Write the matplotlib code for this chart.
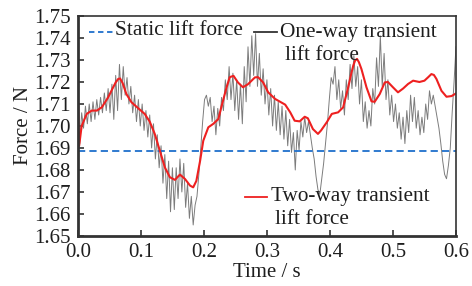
import matplotlib
matplotlib.use("Agg")
import matplotlib.pyplot as plt
import numpy as np
from matplotlib.lines import Line2D

plt.rcParams['font.family'] = ['Liberation Serif', 'DejaVu Serif']

# Static lift force (constant)
static_force = 1.6886

# One-way transient lift force, sampled every 0.003 s from 0 to 0.6 s
t_one = np.linspace(0.0, 0.6, 201)
one_way = [
    1.690, 1.692, 1.706, 1.699, 1.709, 1.701, 1.710, 1.702, 1.711, 1.703,
    1.712, 1.705, 1.713, 1.706, 1.715, 1.707, 1.717, 1.706, 1.719, 1.703,
    1.723, 1.707, 1.728, 1.712, 1.727, 1.714, 1.722, 1.710, 1.718, 1.706,
    1.714, 1.702, 1.712, 1.700, 1.710, 1.698, 1.707, 1.695, 1.705, 1.690,
    1.701, 1.685, 1.696, 1.681, 1.691, 1.674, 1.687, 1.667, 1.684, 1.661,
    1.681, 1.662, 1.681, 1.667, 1.685, 1.670, 1.683, 1.663, 1.674, 1.658,
    1.668, 1.655, 1.664, 1.668, 1.678, 1.690, 1.702, 1.712, 1.714, 1.709,
    1.713, 1.702, 1.709, 1.696, 1.708, 1.700, 1.713, 1.707, 1.721, 1.712,
    1.727, 1.712, 1.724, 1.707, 1.721, 1.703, 1.719, 1.701, 1.727, 1.711,
    1.736, 1.718, 1.741, 1.723, 1.742, 1.718, 1.733, 1.714, 1.726, 1.710,
    1.721, 1.705, 1.717, 1.700, 1.714, 1.698, 1.711, 1.696, 1.709, 1.694,
    1.707, 1.691, 1.703, 1.688, 1.697, 1.680, 1.698, 1.689, 1.702, 1.695,
    1.704, 1.697, 1.702, 1.696, 1.690, 1.685, 1.677, 1.671, 1.669, 1.676,
    1.683, 1.692, 1.701, 1.712, 1.722, 1.719, 1.727, 1.712, 1.721, 1.708,
    1.716, 1.705, 1.721, 1.712, 1.728, 1.717, 1.732, 1.718, 1.727, 1.710,
    1.721, 1.702, 1.711, 1.699, 1.707, 1.700, 1.717, 1.710, 1.731, 1.718,
    1.741, 1.718, 1.733, 1.712, 1.721, 1.705, 1.714, 1.702, 1.710, 1.699,
    1.706, 1.694, 1.704, 1.692, 1.707, 1.697, 1.714, 1.702, 1.713, 1.699,
    1.707, 1.696, 1.704, 1.697, 1.710, 1.703, 1.716, 1.710, 1.714, 1.709,
    1.704, 1.699, 1.692, 1.684, 1.678, 1.676, 1.682, 1.690, 1.706, 1.720, 1.736,
]

# Two-way transient lift force
t_two = [0.000, 0.002, 0.006, 0.014, 0.022, 0.030, 0.038, 0.048, 0.056, 0.060,
         0.064, 0.067, 0.071, 0.077, 0.085, 0.096, 0.106, 0.114, 0.122, 0.130,
         0.138, 0.146, 0.154, 0.162, 0.170, 0.178, 0.183, 0.188, 0.194, 0.199,
         0.207, 0.215, 0.223, 0.228, 0.236, 0.241, 0.247, 0.254, 0.262, 0.270,
         0.281, 0.286, 0.294, 0.302, 0.313, 0.321, 0.329, 0.337, 0.344, 0.352,
         0.360, 0.365, 0.373, 0.381, 0.386, 0.395, 0.403, 0.413, 0.421, 0.429,
         0.434, 0.437, 0.440, 0.443, 0.446, 0.450, 0.458, 0.466, 0.471, 0.479,
         0.487, 0.492, 0.500, 0.508, 0.516, 0.524, 0.532, 0.542, 0.550, 0.556,
         0.561, 0.565, 0.569, 0.577, 0.585, 0.593, 0.600]
two_way = [1.714, 1.691, 1.700, 1.7055, 1.707, 1.707, 1.7085, 1.713, 1.7176, 1.7198,
           1.7214, 1.7216, 1.7195, 1.7145, 1.7108, 1.708, 1.7055, 1.702, 1.6964, 1.6888,
           1.6812, 1.6767, 1.6755, 1.6779, 1.6759, 1.6729, 1.6721, 1.675, 1.6842, 1.6933,
           1.6994, 1.701, 1.7032, 1.709, 1.7176, 1.7222, 1.7228, 1.7198, 1.7176, 1.719,
           1.7221, 1.7222, 1.7198, 1.7153, 1.7123, 1.711, 1.7097, 1.7062, 1.7024, 1.7021,
           1.7042, 1.7035, 1.6986, 1.6964, 1.698, 1.7017, 1.7055, 1.7062, 1.7085, 1.7176,
           1.7240, 1.7274, 1.7298, 1.7305, 1.7290, 1.7259, 1.7176, 1.7112, 1.711, 1.7145,
           1.7198, 1.720, 1.7176, 1.7153, 1.717, 1.7191, 1.7206, 1.720, 1.7206, 1.7222,
           1.7236, 1.7232, 1.7214, 1.716, 1.7133, 1.7136, 1.7148]

x_ticks = [0.0, 0.1, 0.2, 0.3, 0.4, 0.5, 0.6]
y_ticks = [1.65, 1.66, 1.67, 1.68, 1.69, 1.70, 1.71, 1.72, 1.73, 1.74, 1.75]

gray_c = '#7c7c7c'
blue_c = '#1f70cc'
red_c = '#ee2020'
txt_c = '#1e1e1e'

fig = plt.figure(figsize=(4.72, 2.86), dpi=100)
ax = fig.add_axes([0.165, 0.175, 0.801, 0.769])

ax.plot(t_one, one_way, color=gray_c, lw=0.7)
ax.axhline(static_force, color=blue_c, lw=1.3, dashes=(4, 2.3))
ax.plot(t_two, two_way, color=red_c, lw=1.5)

ax.set_xlim(0, 0.6)
ax.set_ylim(1.65, 1.75)
ax.set_xticks(x_ticks)
ax.set_xticklabels([f"{v:.1f}" for v in x_ticks])
ax.set_yticks(y_ticks)
ax.set_yticklabels([f"{v:.2f}" for v in y_ticks])
ax.tick_params(direction='in', length=4, width=1.2, labelsize=15,
               colors='#333333', labelcolor=txt_c, pad=5)

for side in ['left', 'bottom']:
    ax.spines[side].set_linewidth(2)
    ax.spines[side].set_color('#333333')
for side in ['top', 'right']:
    ax.spines[side].set_linewidth(1.2)
    ax.spines[side].set_color('#333333')

ax.set_xlabel('Time / s', fontsize=15, color=txt_c, labelpad=1)
ax.set_ylabel('Force / N', fontsize=15, color=txt_c, labelpad=1)

# hand-placed legend entries
def px(x, y):
    return x / 472, 1 - y / 286

for (x0, x1, y), col, dash in [((89, 113, 31.5), blue_c, (3, 2)),
                               ((254, 277, 32), '#333333', None),
                               ((245, 267, 197), red_c, None)]:
    a, b = px(x0, y)
    c, _ = px(x1, y)
    ln = Line2D([a, c], [b, b], transform=fig.transFigure, color=col, lw=1.3)
    if dash:
        ln.set_dashes(dash)
    fig.add_artist(ln)

fs = 15.3
fig.text(*px(115, 31), 'Static lift force', fontsize=fs, color=txt_c, va='center')
fig.text(*px(280, 32), 'One-way transient', fontsize=fs, color=txt_c, va='center')
fig.text(*px(285, 55), 'lift force', fontsize=fs, color=txt_c, va='center')
fig.text(*px(271, 197), 'Two-way transient', fontsize=fs, color=txt_c, va='center')
fig.text(*px(275, 220), 'lift force', fontsize=fs, color=txt_c, va='center')

fig.savefig('out.png', dpi=100)
